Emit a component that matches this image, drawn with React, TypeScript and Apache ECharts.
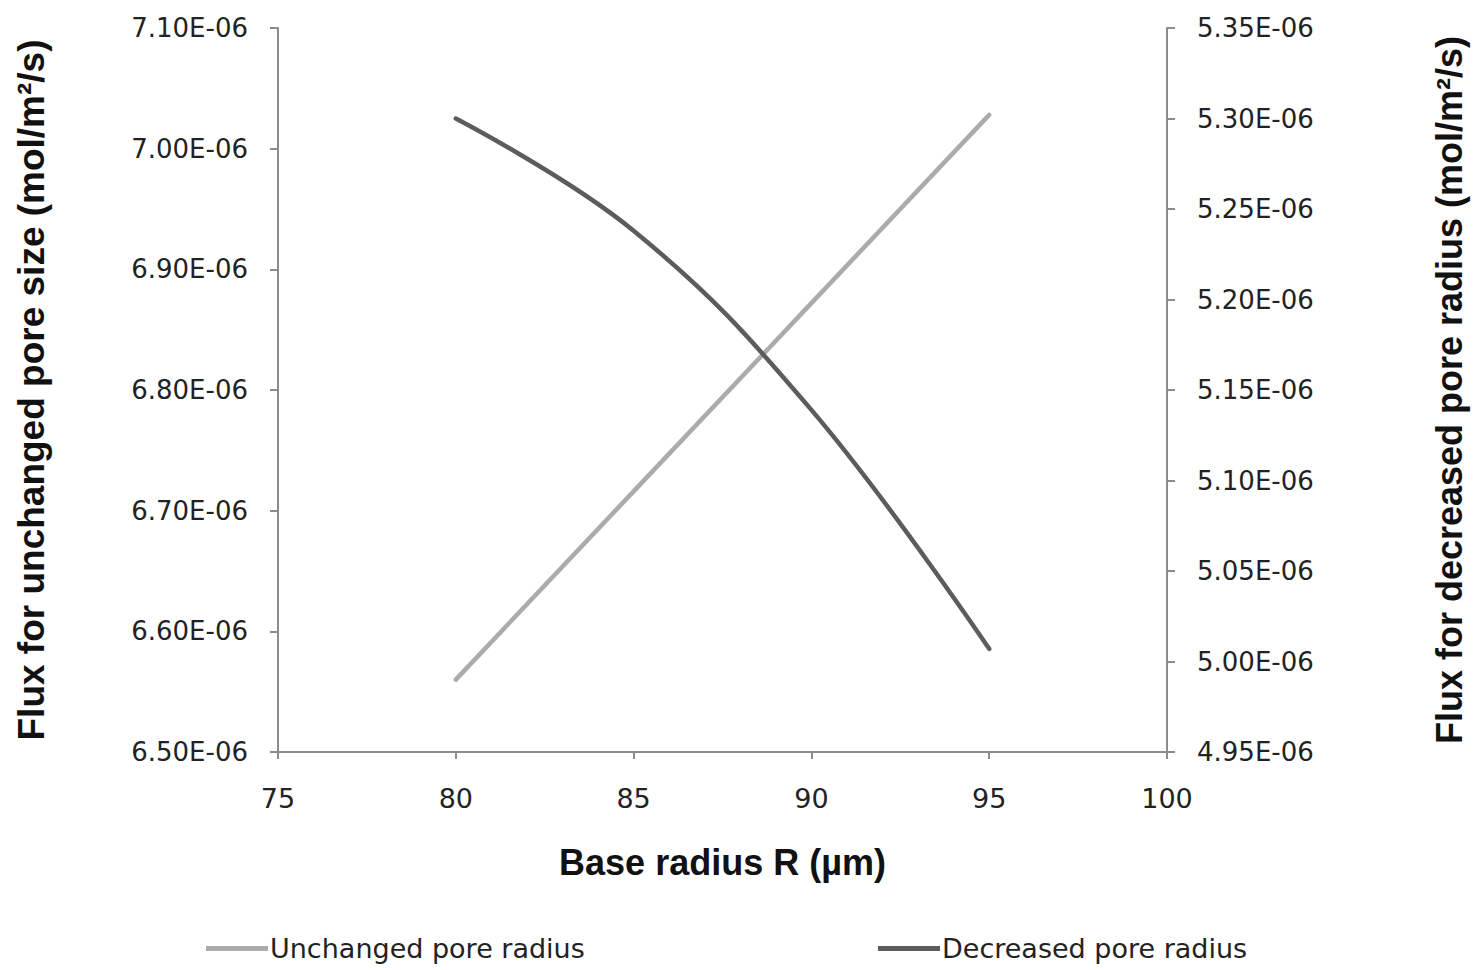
import React, { useEffect, useRef } from "react";
import * as echarts from "echarts";

const xValues = [80, 85, 90, 95];
const unchangedFlux = [6.56e-6, 6.716e-6, 6.872e-6, 7.028e-6];
const decreasedFlux = [5.3e-6, 5.238e-6, 5.139e-6, 5.007e-6];
const seriesNames = ["Unchanged pore radius", "Decreased pore radius"];
const xTitle = "Base radius R (µm)";
const leftTitle = "Flux for unchanged pore size (mol/m²/s)";
const rightTitle = "Flux for decreased pore radius (mol/m²/s)";

const fmtE = (v: number) => (v / 1e-6).toFixed(2) + "E-06";

export default function App() {
  const ref = useRef<HTMLDivElement>(null);
  useEffect(() => {
    if (!ref.current) return;
    const chart = echarts.init(ref.current, null, { renderer: "svg" });
    const axisGray = "#8c8c8c";
    const tickFont = { fontFamily: "DejaVu Sans", color: "#222" };
    chart.setOption({
      animation: false,
      backgroundColor: "#ffffff",
      grid: { left: 278, right: 308, top: 28, bottom: 218 },
      legend: [
        {
          data: [seriesNames[0]],
          left: 201,
          top: 930,
          icon: "rect",
          itemWidth: 62,
          itemHeight: 5,
          textStyle: { fontFamily: "DejaVu Sans", fontSize: 27, color: "#222", padding: [0, 0, 0, -3] },
        },
        {
          data: [seriesNames[1]],
          left: 873,
          top: 930,
          icon: "rect",
          itemWidth: 62,
          itemHeight: 5,
          textStyle: { fontFamily: "DejaVu Sans", fontSize: 27, color: "#222", padding: [0, 0, 0, -3] },
        },
      ],
      xAxis: {
        type: "value",
        min: 75,
        max: 100,
        interval: 5,
        name: xTitle,
        nameLocation: "middle",
        nameGap: 92,
        nameTextStyle: { fontFamily: "Liberation Sans", fontWeight: "bold", fontSize: 36, color: "#111" },
        axisLine: { show: true, lineStyle: { color: axisGray, width: 2 } },
        axisTick: { show: true, inside: false, length: 7, lineStyle: { color: axisGray, width: 2 } },
        axisLabel: { ...tickFont, fontSize: 27, margin: 33 },
        splitLine: { show: false },
      },
      yAxis: [
        {
          type: "value",
          position: "left",
          min: 6.5e-6,
          max: 7.1e-6,
          interval: 1e-7,
          name: leftTitle,
          nameLocation: "middle",
          nameRotate: 90,
          nameGap: 228,
          nameTextStyle: { fontFamily: "Liberation Sans", fontWeight: "bold", fontSize: 37, color: "#111" },
          axisLine: { show: true, lineStyle: { color: axisGray, width: 2 } },
          axisTick: { show: true, inside: false, length: 8, lineStyle: { color: axisGray, width: 2 } },
          axisLabel: { ...tickFont, fontSize: 26, margin: 30, formatter: fmtE },
          splitLine: { show: false },
        },
        {
          type: "value",
          position: "right",
          min: 4.95e-6,
          max: 5.35e-6,
          interval: 5e-8,
          name: rightTitle,
          nameLocation: "middle",
          nameRotate: 90,
          nameGap: 264,
          nameTextStyle: { fontFamily: "Liberation Sans", fontWeight: "bold", fontSize: 36, color: "#111" },
          axisLine: { show: true, lineStyle: { color: axisGray, width: 2 } },
          axisTick: { show: true, inside: false, length: 8, lineStyle: { color: axisGray, width: 2 } },
          axisLabel: { ...tickFont, fontSize: 26, margin: 30, formatter: fmtE },
          splitLine: { show: false },
        },
      ],
      series: [
        {
          name: seriesNames[0],
          type: "line",
          yAxisIndex: 0,
          data: xValues.map((x, i) => [x, unchangedFlux[i]]),
          showSymbol: false,
          symbol: "none",
          lineStyle: { color: "#ababab", width: 4.5, cap: "round" },
          itemStyle: { color: "#ababab" },
        },
        {
          name: seriesNames[1],
          type: "line",
          yAxisIndex: 1,
          data: xValues.map((x, i) => [x, decreasedFlux[i]]),
          smooth: 0.4,
          showSymbol: false,
          symbol: "none",
          lineStyle: { color: "#5c5c5c", width: 4.5, cap: "round" },
          itemStyle: { color: "#5c5c5c" },
        },
      ],
    });
    return () => chart.dispose();
  }, []);
  return (
    <div
      ref={ref}
      style={{ position: "fixed", left: 0, top: 0, width: 1475, height: 970, background: "#fff" }}
    />
  );
}
